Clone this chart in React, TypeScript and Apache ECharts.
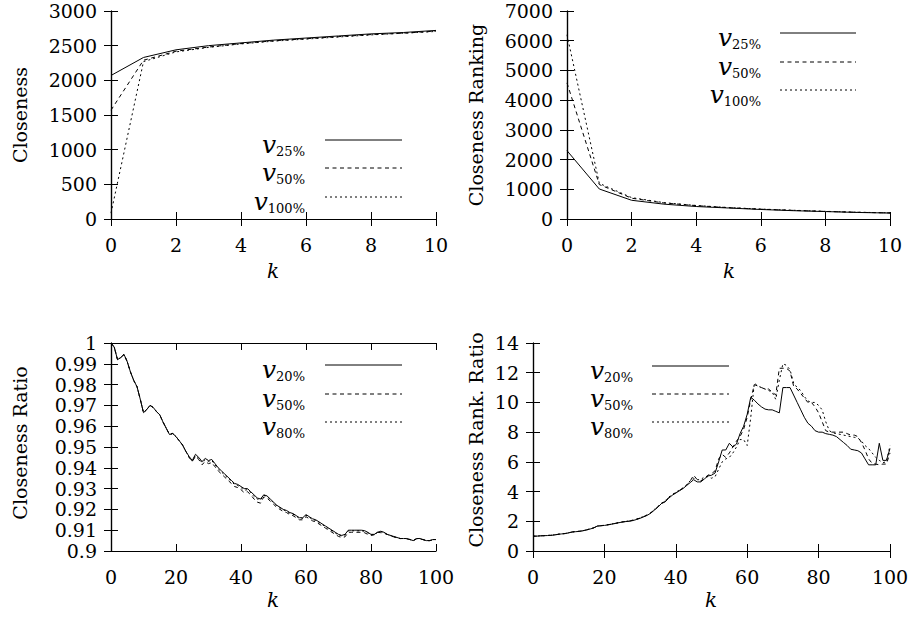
import React, { useEffect, useRef } from "react";
import * as echarts from "echarts";

// ---- data ----
const K10 = [0, 1, 2, 3, 4, 5, 6, 7, 8, 9, 10];
const K100 = Array.from({ length: 101 }, (_, i) => i);

const close25 = [2070, 2330, 2440, 2500, 2540, 2580, 2610, 2640, 2670, 2690, 2720];
const close50 = [1570, 2290, 2420, 2480, 2530, 2570, 2600, 2630, 2660, 2680, 2710];
const close100 = [85, 2270, 2410, 2475, 2525, 2565, 2595, 2625, 2655, 2680, 2705];

const rank25 = [2300, 1010, 630, 500, 420, 370, 320, 280, 250, 220, 200];
const rank50 = [4580, 1160, 700, 540, 450, 380, 330, 290, 255, 225, 205];
const rank100 = [6200, 1200, 720, 550, 455, 385, 335, 295, 258, 228, 207];

const ratio20 = [
  1.0, 0.998, 0.992, 0.993, 0.9945, 0.991, 0.986, 0.982, 0.979, 0.973,
  0.9665, 0.968, 0.97, 0.969, 0.967, 0.9655, 0.962, 0.959, 0.956, 0.9565,
  0.955, 0.953, 0.951, 0.948, 0.9455, 0.9435, 0.9465, 0.945, 0.943, 0.9445,
  0.9435, 0.944, 0.942, 0.94, 0.9385, 0.937, 0.9355, 0.934, 0.9325, 0.932,
  0.931, 0.93, 0.93, 0.9285, 0.927, 0.9255, 0.925, 0.927, 0.9265, 0.925,
  0.9235, 0.922, 0.921, 0.92, 0.9195, 0.9185, 0.918, 0.917, 0.916, 0.916,
  0.9175, 0.9165, 0.9155, 0.915, 0.914, 0.913, 0.912, 0.911, 0.91, 0.909,
  0.908, 0.9075, 0.908, 0.91, 0.91, 0.91, 0.91, 0.91, 0.9098, 0.909,
  0.908, 0.908, 0.909, 0.9095, 0.909, 0.908, 0.9075, 0.907, 0.9065, 0.906,
  0.906, 0.906, 0.9055, 0.905, 0.906, 0.906, 0.9055, 0.905, 0.905, 0.9055,
  0.9055,
];
const ratio50 = [
  1.0, 0.998, 0.992, 0.993, 0.9945, 0.991, 0.986, 0.982, 0.979, 0.973,
  0.9665, 0.968, 0.97, 0.969, 0.967, 0.9655, 0.962, 0.959, 0.956, 0.9565,
  0.955, 0.953, 0.951, 0.948, 0.945, 0.943, 0.9455, 0.944, 0.9415, 0.943,
  0.942, 0.9425, 0.9405, 0.9385, 0.937, 0.9355, 0.934, 0.9325, 0.931, 0.9305,
  0.9295, 0.928, 0.9285, 0.927, 0.925, 0.9235, 0.923, 0.926, 0.9255, 0.924,
  0.9225, 0.921, 0.92, 0.919, 0.9185, 0.9175, 0.917, 0.916, 0.915, 0.915,
  0.9165, 0.9155, 0.9145, 0.914, 0.913, 0.912, 0.911, 0.91, 0.909, 0.908,
  0.907, 0.9065, 0.9068, 0.909, 0.909, 0.909, 0.909, 0.909, 0.9088, 0.908,
  0.9075, 0.9078, 0.909, 0.9088, 0.9085, 0.908, 0.9072, 0.9068, 0.9062, 0.906,
  0.906, 0.9058, 0.9055, 0.905, 0.9058, 0.9058, 0.9055, 0.905, 0.905, 0.9053,
  0.9055,
];
const ratio80 = [
  1.0, 0.998, 0.992, 0.993, 0.9945, 0.991, 0.986, 0.982, 0.979, 0.973,
  0.9665, 0.968, 0.97, 0.969, 0.967, 0.9655, 0.962, 0.959, 0.956, 0.9565,
  0.955, 0.953, 0.951, 0.948, 0.9452, 0.9432, 0.946, 0.9446, 0.9425, 0.944,
  0.943, 0.9435, 0.9415, 0.9395, 0.938, 0.9365, 0.935, 0.9335, 0.932, 0.9315,
  0.9305, 0.9292, 0.9295, 0.928, 0.9262, 0.925, 0.9245, 0.9268, 0.9262, 0.9248,
  0.9232, 0.9218, 0.9208, 0.9198, 0.9192, 0.9182, 0.9177, 0.9167, 0.9157, 0.9157,
  0.9172, 0.9162, 0.9152, 0.9147, 0.9137, 0.9127, 0.9117, 0.9107, 0.9097, 0.9087,
  0.9077, 0.9072, 0.9077, 0.9097, 0.9097, 0.9097, 0.9097, 0.9097, 0.9095, 0.9087,
  0.9078, 0.9079, 0.9089, 0.9093, 0.9088, 0.9079, 0.9074, 0.9069, 0.9064, 0.906,
  0.906, 0.906, 0.9055, 0.905, 0.906, 0.906, 0.9055, 0.905, 0.905, 0.9055,
  0.9055,
];

const rr20 = [
  1.0, 1.0, 1.02, 1.03, 1.04, 1.05, 1.08, 1.12, 1.15, 1.17,
  1.22, 1.28, 1.3, 1.32, 1.36, 1.42, 1.48, 1.55, 1.68, 1.7,
  1.72, 1.76, 1.8, 1.85, 1.9, 1.95, 1.98, 2.0, 2.05, 2.12,
  2.2, 2.3, 2.4, 2.55, 2.75, 2.95, 3.2, 3.3, 3.55, 3.75,
  3.9, 4.05, 4.2, 4.4, 4.6, 4.8, 4.65, 4.65, 4.85, 5.05,
  5.1, 5.25, 6.0, 6.8, 6.8, 7.25, 7.0, 7.2, 7.9, 8.4,
  9.2, 10.35, 10.15, 9.9, 9.7, 9.55, 9.5, 9.5, 9.4, 9.3,
  11.0, 11.0, 11.0, 10.5, 10.0, 9.5, 9.0, 8.6, 8.4, 8.1,
  8.0, 8.0, 7.9, 7.85, 7.8, 7.7, 7.5, 7.3, 7.1, 6.85,
  6.8, 6.75, 6.6, 6.2, 5.8, 5.8, 5.8, 7.25, 6.1, 6.1,
  6.9,
];
const rr50 = [
  1.0, 1.0, 1.02, 1.03, 1.04, 1.06, 1.09, 1.12, 1.15, 1.18,
  1.23, 1.28, 1.3, 1.33, 1.37, 1.42, 1.48, 1.56, 1.67, 1.7,
  1.73, 1.77, 1.81, 1.86, 1.9, 1.95, 1.99, 2.02, 2.07, 2.14,
  2.22, 2.32, 2.42, 2.57, 2.78, 2.98, 3.2, 3.35, 3.6, 3.78,
  3.92, 4.08, 4.22, 4.42, 4.7, 5.1, 4.8, 4.7, 4.9, 5.1,
  5.2, 5.4, 6.2, 6.5, 6.3, 6.6, 7.0, 7.4, 7.7, 8.2,
  9.0, 10.2, 11.2, 11.1, 11.0, 10.9, 10.9, 10.7, 10.5, 12.3,
  12.3, 12.3, 12.1, 11.1, 10.9, 10.6, 10.3, 10.0, 10.0, 9.7,
  9.3, 8.7, 8.1, 8.0, 8.0, 8.0, 8.0, 8.0, 7.9, 7.8,
  7.8, 7.7, 7.3, 6.8, 6.2, 5.9, 5.85, 5.8, 5.85, 5.85,
  6.6,
];
const rr80 = [
  1.0, 1.0, 1.02, 1.03, 1.05, 1.06, 1.09, 1.13, 1.16, 1.18,
  1.23, 1.29, 1.31, 1.33, 1.37, 1.43, 1.49, 1.57, 1.67, 1.71,
  1.73, 1.77, 1.82, 1.87, 1.92, 1.96, 2.0, 2.03, 2.08, 2.15,
  2.23, 2.33, 2.43, 2.58, 2.8, 3.0, 3.22, 3.38, 3.62, 3.8,
  3.95, 4.1, 4.25, 4.45, 4.72, 4.9, 4.8, 4.8, 5.0, 5.0,
  4.9, 5.0, 5.5, 6.0, 6.2, 6.3, 6.6, 7.0, 7.5, 7.5,
  7.1, 9.0, 11.3, 11.1, 11.0, 10.9, 10.8, 10.7, 10.2, 11.5,
  12.6, 12.5, 12.2, 11.3, 11.0, 10.8, 10.4, 10.1, 10.0, 10.0,
  9.8, 9.5, 8.7, 8.1, 7.95, 7.9, 7.85, 7.8, 7.75, 7.7,
  7.65, 7.6, 7.4, 7.1, 6.9, 6.6, 6.3, 6.1, 5.95, 6.0,
  7.1,
];

const FONT = "DejaVu Serif";

type GridSpec = {
  left: number; top: number; width: number; height: number;
  xmax: number; xint: number; ymin: number; ymax: number; yint: number;
};

const GRIDS: GridSpec[] = [
  { left: 111, top: 11, width: 325, height: 208, xmax: 10, xint: 2, ymin: 0, ymax: 3000, yint: 500 },
  { left: 567, top: 11, width: 323, height: 208, xmax: 10, xint: 2, ymin: 0, ymax: 7000, yint: 1000 },
  { left: 111, top: 343, width: 325, height: 208, xmax: 100, xint: 20, ymin: 0.9, ymax: 1.0, yint: 0.01 },
  { left: 533, top: 343, width: 357, height: 208, xmax: 100, xint: 20, ymin: 0, ymax: 14, yint: 2 },
];

const DASHES: any[] = ["solid", [4, 3.5], [2, 3]];

const fmt = (v: number) => String(parseFloat(Number(v).toFixed(4)));

function App() {
  const ref = useRef<HTMLDivElement>(null);
  useEffect(() => {
    document.body.style.margin = "0";
    if (!ref.current) return;
    const chart = echarts.init(ref.current, null, { renderer: "svg" });

    const axisLine = { show: true, lineStyle: { color: "#000", width: 1.2 } };
    const tick = { show: true, inside: true, length: 7, lineStyle: { color: "#000", width: 1 } };
    const label = { color: "#000", fontFamily: FONT, fontSize: 19, formatter: fmt };

    const xAxis: any[] = [];
    const yAxis: any[] = [];
    GRIDS.forEach((g, i) => {
      xAxis.push({
        type: "value", gridIndex: i, min: 0, max: g.xmax, interval: g.xint, position: "bottom",
        axisLine, axisTick: tick, splitLine: { show: false },
        axisLabel: { ...label, margin: 16 },
      });
      xAxis.push({
        type: "value", gridIndex: i, min: 0, max: g.xmax, interval: g.xint, position: "top",
        axisLine, axisTick: tick, splitLine: { show: false }, axisLabel: { show: false },
      });
      yAxis.push({
        type: "value", gridIndex: i, min: g.ymin, max: g.ymax, interval: g.yint, position: "left",
        axisLine, axisTick: tick, splitLine: { show: false },
        axisLabel: { ...label, margin: 14 },
      });
      yAxis.push({
        type: "value", gridIndex: i, min: g.ymin, max: g.ymax, interval: g.yint, position: "right",
        axisLine, axisTick: tick, splitLine: { show: false }, axisLabel: { show: false },
      });
    });

    const mk = (grid: number, xs: number[], ys: number[], dash: number) => ({
      type: "line",
      xAxisIndex: grid * 2,
      yAxisIndex: grid * 2,
      data: xs.map((x, i) => [x, ys[i]]),
      showSymbol: false,
      symbol: "none",
      clip: true,
      lineStyle: { color: "#000", width: 1, type: DASHES[dash] },
    });

    const series = [
      mk(0, K10, close25, 0), mk(0, K10, close50, 1), mk(0, K10, close100, 2),
      mk(1, K10, rank25, 0), mk(1, K10, rank50, 1), mk(1, K10, rank100, 2),
      mk(2, K100, ratio20, 0), mk(2, K100, ratio50, 1), mk(2, K100, ratio80, 2),
      mk(3, K100, rr20, 0), mk(3, K100, rr50, 1), mk(3, K100, rr80, 2),
    ];

    const yName = (text: string, x: number, y: number) => ({
      type: "text", x, y, rotation: Math.PI / 2,
      style: { text, fill: "#000", font: `19px "${FONT}"`, align: "center", verticalAlign: "middle" },
    });
    const xName = (x: number, y: number) => ({
      type: "text", x, y,
      style: { text: "k", fill: "#000", font: `italic 20px "${FONT}"`, align: "center", verticalAlign: "middle" },
    });
    const legend = (labels: string[], textRight: number, lineX0: number, lineX1: number, ys: number[]) => {
      const els: any[] = [];
      labels.forEach((lb, i) => {
        els.push({
          type: "text", x: textRight, y: ys[i] + 4,
          style: {
            text: `{v|v}{s|${lb}}`, align: "right", verticalAlign: "middle",
            rich: {
              v: { fontFamily: FONT, fontStyle: "italic", fontSize: 25, lineHeight: 28, verticalAlign: "middle", fill: "#000" },
              s: { fontFamily: FONT, fontSize: 13, lineHeight: 13, verticalAlign: "bottom", fill: "#000" },
            },
          },
        });
        els.push({
          type: "line",
          shape: { x1: lineX0, y1: ys[i], x2: lineX1, y2: ys[i] },
          style: { stroke: "#000", lineWidth: 1, lineDash: i === 0 ? null : DASHES[i] },
        });
      });
      return els;
    };

    const graphic: any[] = [
      yName("Closeness", 20, 115),
      yName("Closeness Ranking", 476, 115),
      yName("Closeness Ratio", 20, 443),
      yName("Closeness Rank. Ratio", 476, 440),
      xName(273, 271),
      xName(729, 271),
      xName(273, 600),
      xName(711, 600),
      ...legend(["25%", "50%", "100%"], 305, 325, 402, [140, 168, 197]),
      ...legend(["25%", "50%", "100%"], 761, 780, 856, [33, 62, 90]),
      ...legend(["20%", "50%", "80%"], 305, 325, 402, [365, 394, 422]),
      ...legend(["20%", "50%", "80%"], 633, 652, 729, [366, 394, 422]),
    ];

    chart.setOption({
      animation: false,
      backgroundColor: "#fff",
      grid: GRIDS.map((g) => ({ left: g.left, top: g.top, width: g.width, height: g.height })),
      xAxis,
      yAxis,
      series,
      graphic,
    });
    return () => chart.dispose();
  }, []);
  return <div ref={ref} style={{ width: 914, height: 618 }} />;
}

export default App;
